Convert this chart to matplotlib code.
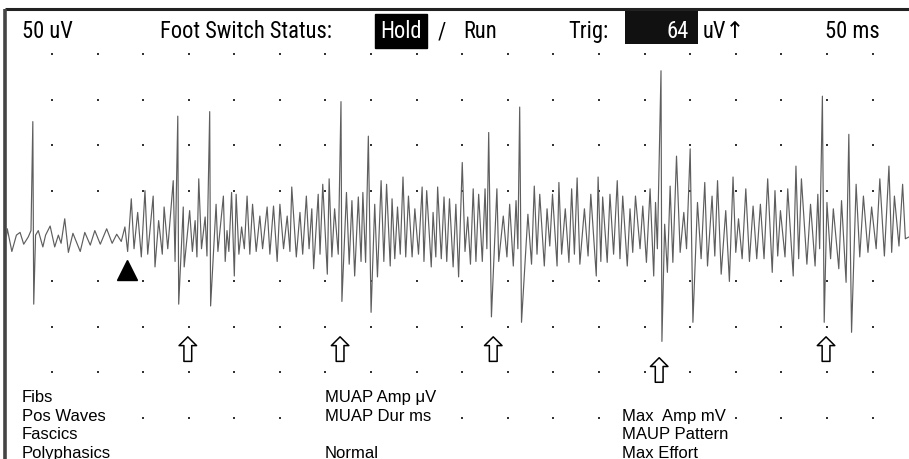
import numpy as np
import matplotlib
matplotlib.use("Agg")
import matplotlib.pyplot as plt
from matplotlib import font_manager
from matplotlib.patches import Rectangle

plt.rcParams['font.family'] = ['Liberation Sans', 'DejaVu Sans']

# EMG sweep: turning points of the trace, time in ms, amplitude in uV (50 uV / div, 50 ms / div)
trace_ms = [0, 1, 6, 11, 15, 19, 24, 27, 29, 30, 32, 35, 40, 43, 48, 53, 57, 60, 64, 68,
            73, 81, 86, 92, 97, 103, 110, 116, 121, 126, 130, 133,
            137, 140, 144, 148, 152, 155, 161, 163, 167, 171, 173, 177, 183, 185, 188, 189,
            194, 195, 201, 204, 207, 209, 211, 214, 218, 220, 223, 224, 230, 232, 238, 240,
            242, 244, 247, 250, 252, 255, 258, 261, 264, 267, 270, 274, 278, 281, 286, 289,
            293, 297, 300, 304, 308, 311, 313, 318, 322, 325, 329, 332, 335, 337, 342, 344,
            347, 352, 354, 357, 360, 364, 367, 368, 373, 376, 379, 382, 386, 389, 391, 394,
            397, 400, 404, 407, 411, 414, 417, 421, 423, 426, 429, 432, 435, 438, 441, 445,
            448, 452, 456, 458, 461, 466, 468, 471, 473, 477, 480, 483, 486, 490, 493, 496,
            500, 503, 506, 509, 512, 515, 518, 522, 525, 527, 529, 532, 538, 540, 545, 549,
            552, 556, 559, 561, 563, 565,
            572, 576, 579, 582, 585, 590, 593, 596, 599, 604, 606, 609, 613, 617, 620, 623,
            626, 629, 634, 638, 641, 647, 649, 652, 654, 659, 662, 666, 670, 673, 676, 681,
            684, 687, 690, 695, 698, 702, 706, 710, 712, 714, 718, 719, 722, 725, 728, 731,
            735, 739, 743, 746, 750, 753, 758, 762, 766, 769, 774, 777, 780, 784,
            789, 793, 797, 800, 803, 807, 811, 815, 819, 823, 827, 831, 835, 840, 843, 846,
            849, 854, 857, 863, 866, 869, 872, 878, 882, 887, 890, 892, 895, 897, 900, 904,
            907, 913, 916, 921, 924, 927, 932, 936, 940, 945, 949, 954, 958, 963, 968, 971,
            974, 979, 983, 986, 990]
trace_uv = [-1, 8, -17, 1, 4, -9, -1, 6, 126, -75, 1, 6, -12, 1, 11, -12, 1, -8, 19, -18,
            3, -17, 4, -10, 6, -9, 8, -8, 2, -6, 10, -17,
            41, -14, 26, -23, 50, -20, 44, -34, 17, -20, 32, -14, 61, -28, 132, -75,
            32, -34, 28, -17, 17, -23, 63, -14, 21, -22, 137, -77, 35, -17, 44, -28,
            6, -17, 48, -44, 46, -20, 10, -14, 44, -20, 35, -17, 22, -14, 32, -20,
            33, -28, 35, -14, 22, -17, 54, -23, 26, -20, 44, -14, 30, -36, 46, -20,
            57, -42, 63, -23, 30, -20, 148, -72, 48, -31, 39, -44, 43, -28, 48, -29,
            110, -84, 35, -45, 61, -28, 57, -33, 41, -25, 32, -20, 65, -23, 44, -23,
            30, -20, 54, -28, 50, -34, 26, -23, 54, -25, 43, -28, 41, -34, 35, -45,
            81, -17, 21, -31, 52, -28, 46, -28, 52, -14, 114, -89, 52, -28, 22, -23,
            35, -33, 39, -14, 142, -95,
            24, -31, 55, -20, 46, -33, 30, -11, 46, -33, 59, -20, 30, -29, 52, -20,
            64, -31, 30, -22, 46, -44, 65, -28, 43, -29, 46, -20, 61, -25, 44, -33,
            30, -18, 44, -14, 33, -29, 52, -44, 37, -14, 182, -116, 13, -40, 55, -29,
            88, -18, 26, -14, 96, -95, 37, -25, 59, -33, 44, -22, 61, -42,
            28, -50, 65, -18, 19, -25, 52, -28, 33, -25, 35, -25, 63, -40, 50, -22,
            28, -23, 52, -44, 77, -25, 63, -31, 35, -33, 46, -14, 154, -95, 37, -25,
            30, -36, 39, -51, 112, -106, 57, -23, 44, -18, 32, -14, 63, -22, 77, -18,
            44, -11, 57, -3, -1]

# markers under the trace
arrow_ms = [199, 366, 534, 716, 899]
arrow_low = [-138, -138, -138, -161, -138]
onset_ms = 132
onset_uv = -37

grid_ms = np.arange(50, 1000, 50)
grid_uv = [200, 150, 100, 50, -50, -100, -150, -200]

# pick a condensed face for the header if one is installed
names = {(f.name, f.stretch) for f in font_manager.fontManager.ttflist}
head_font = dict(family=['Liberation Sans', 'DejaVu Sans'])
for nm in ['Liberation Sans Narrow', 'Roboto Condensed', 'Open Sans Condensed']:
    if any(n == nm for n, _ in names):
        head_font = dict(family=[nm, 'DejaVu Sans'])
        break
else:
    if any(n == 'DejaVu Sans' and s == 'condensed' for n, s in names):
        head_font = dict(family=['DejaVu Sans'], stretch='condensed')

fig = plt.figure(figsize=(9.09, 4.6), dpi=100)
ax = fig.add_axes([0, 0, 1, 1])
ax.set_xlim(-7, 990)
ax.set_ylim(-245.5, 261)
ax.axis('off')

# header size: fit "Foot Switch Status:" to about the width it has on the screen
renderer = fig.canvas.get_renderer()
probe = ax.text(0, 0, 'Foot Switch Status:', fontsize=18, **head_font)
w = probe.get_window_extent(renderer).width
probe.remove()
hs = 18 * min(1.0, 172.0 / w)

# frame
ax.plot([-1, 990], [250, 250], color='#222222', lw=2.2, solid_capstyle='butt')
ax.plot([-1, -1], [250, -246], color='#444444', lw=2.6, solid_capstyle='butt')

# grid dots
gx, gy = np.meshgrid(grid_ms, grid_uv)
ax.plot(gx.ravel(), gy.ravel(), ls='none', marker='s', ms=1.6, color='#333333', mew=0)

# trace
ax.plot(trace_ms, trace_uv, color='#5e5e5e', lw=0.85)

# onset triangle and hollow arrows
ax.plot([onset_ms], [onset_uv], marker='^', ms=15, color='black', ls='none')
for t, lo in zip(arrow_ms, arrow_low):
    ax.annotate('', xy=(t, lo + 27), xytext=(t, lo),
                arrowprops=dict(arrowstyle='simple,head_length=0.45,head_width=0.9,tail_width=0.4',
                                fc='white', ec='black', lw=1.1, shrinkA=0, shrinkB=0,
                                mutation_scale=14))

# header
hy = 219
ax.text(17, hy, '50 uV', fontsize=hs, va='baseline', **head_font)
ax.text(168, hy, 'Foot Switch Status:', fontsize=hs, va='baseline', **head_font)
ax.text(410, hy, 'Hold', fontsize=hs, va='baseline', color='white',
        bbox=dict(boxstyle='square,pad=0.25', fc='black', ec='black'), **head_font)
ax.text(473, hy, '/', fontsize=hs, va='baseline', **head_font)
ax.text(501, hy, 'Run', fontsize=hs, va='baseline', **head_font)
ax.text(616, hy, 'Trig:', fontsize=hs, va='baseline', **head_font)
ax.add_patch(Rectangle((678, 211), 81, 37, fc='#111111', ec='none'))
ax.text(748, hy, '64', fontsize=hs, va='baseline', ha='right', color='white', **head_font)
ax.text(764, hy, 'uV\u2191', fontsize=hs, va='baseline', **head_font)
ax.text(898, hy, '50 ms', fontsize=hs, va='baseline', **head_font)

# footer labels
fs = 12
box = dict(boxstyle='square,pad=0.1', fc='white', ec='none')
left_lab = ['Fibs', 'Pos Waves', 'Fascics', 'Polyphasics']
left_y = [-182, -203, -222, -243]
for s, y in zip(left_lab, left_y):
    ax.text(17, y, s, fontsize=fs, va='baseline', bbox=box)
mid_lab = ['MUAP Amp \u03bcV', 'MUAP Dur ms', 'Normal']
mid_y = [-182, -203, -243]
for s, y in zip(mid_lab, mid_y):
    ax.text(349, y, s, fontsize=fs, va='baseline', bbox=box)
right_lab = ['Max  Amp mV', 'MAUP Pattern', 'Max Effort']
right_y = [-203, -222, -243]
for s, y in zip(right_lab, right_y):
    ax.text(675, y, s, fontsize=fs, va='baseline', bbox=box)

fig.savefig('out.png', dpi=100)
